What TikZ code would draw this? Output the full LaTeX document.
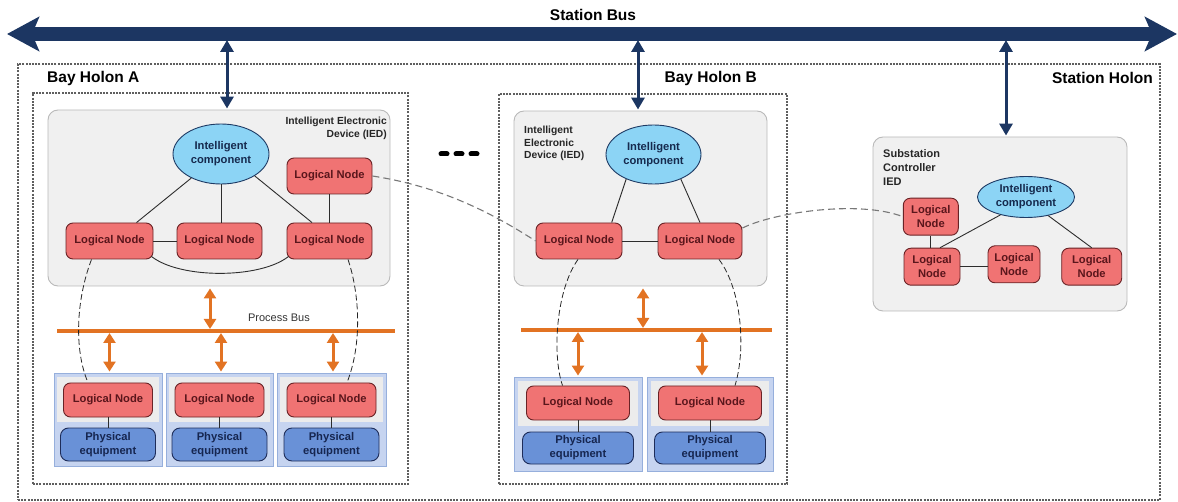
\documentclass[tikz,border=0pt]{standalone}
\usepackage{fontspec}
\setmainfont{Liberation Sans}
\usetikzlibrary{arrows.meta,shapes.geometric}
\definecolor{navy}{RGB}{28,54,98}
\definecolor{lnfill}{RGB}{240,115,115}
\definecolor{lnborder}{RGB}{105,35,38}
\definecolor{lntext}{RGB}{90,22,28}
\definecolor{icfill}{RGB}{140,212,245}
\definecolor{icborder}{RGB}{30,58,100}
\definecolor{ictext}{RGB}{22,42,78}
\definecolor{pefill}{RGB}{105,145,215}
\definecolor{peborder}{RGB}{30,45,90}
\definecolor{petext}{RGB}{22,38,80}
\definecolor{modfill}{RGB}{198,212,240}
\definecolor{modborder}{RGB}{150,175,220}
\definecolor{innergray}{RGB}{236,236,236}
\definecolor{iedfill}{RGB}{240,240,240}
\definecolor{iedborder}{RGB}{185,185,185}
\definecolor{orange1}{RGB}{226,115,35}
\definecolor{holongray}{RGB}{95,95,95}
\definecolor{dashgray}{RGB}{120,120,120}
\definecolor{linkgray}{RGB}{45,45,45}
\newcommand\myfs[2]{\fontsize{#1}{#2}\selectfont\bfseries}
\begin{document}
\begin{tikzpicture}[x=1pt,y=-1pt,
  holon/.style={draw=holongray, line width=1.1pt, dash pattern=on 2pt off 1.2pt, inner sep=0pt},
  holonlabel/.style={font=\myfs{15.5}{18}, text=black, inner sep=0pt},
  ied/.style={draw=iedborder, fill=iedfill, rounded corners=10pt, line width=0.9pt, inner sep=0pt},
  iedlabel/.style={font=\myfs{10.3}{12.5}, text=black!85, inner sep=0pt},
  ln/.style={draw=lnborder, fill=lnfill, text=lntext, rounded corners=7pt, line width=0.9pt,
    font=\myfs{11.2}{14}, minimum height=36pt, inner sep=0pt, align=center},
  ic/.style={ellipse, draw=icborder, fill=icfill, text=ictext, line width=0.9pt,
    font=\myfs{11.2}{14}, inner sep=0pt, align=center},
  pe/.style={draw=peborder, fill=pefill, text=petext, rounded corners=8pt, line width=0.9pt,
    font=\myfs{11.2}{14}, inner sep=0pt, align=center},
  module/.style={draw=modborder, fill=modfill, line width=0.9pt, inner sep=0pt},
  innerbox/.style={fill=innergray, draw=none, inner sep=0pt},
  link/.style={draw=linkgray, line width=0.9pt},
  dashlink/.style={draw=dashgray, dash pattern=on 7pt off 4pt, line width=1.1pt},
  arclink/.style={draw=black!85, dash pattern=on 6pt off 3pt, line width=0.8pt},
  pbus/.style={draw=orange1, line width=4pt},
  oarrow/.style={draw=orange1, line width=3pt, {Triangle[length=10pt,width=12pt]}-{Triangle[length=10pt,width=12pt]}},
  narrow/.style={draw=navy, line width=3pt, {Triangle[length=12pt,width=13pt]}-{Triangle[length=12pt,width=13pt]}},
  sbus/.style={draw=navy, line width=14pt, {Stealth[length=32pt,width=34pt,inset=7pt]}-{Stealth[length=32pt,width=34pt,inset=7pt]}}
]
\useasboundingbox (0,0) rectangle (1178,502);

% holons
\node[holon, minimum width=1142pt, minimum height=436pt] (stationH) at (589,282) {};
\node[holon, minimum width=375pt, minimum height=391pt] (bayA) at (220.5,288.5) {};
\node[holon, minimum width=288pt, minimum height=390pt] (bayB) at (643,289) {};
\node[holonlabel, anchor=west] (bayAlab) at (47,78) {Bay Holon A};
\node[holonlabel, anchor=east] (bayBlab) at (757,78) {Bay Holon B};
\node[holonlabel, anchor=east] (stationlab) at (1153,78) {Station Holon};

% station bus
\coordinate (busL) at (7,34);
\coordinate (busR) at (1177,34);
\draw[sbus] (busL) -- (busR);
\node[font=\myfs{15.5}{18}, inner sep=0pt] (buslab) at (593,15) {Station Bus};

% IED boxes
\node[ied, minimum width=342pt, minimum height=176pt] (iedA) at (219,198) {};
\node[ied, minimum width=253pt, minimum height=175pt] (iedB) at (640.5,198.5) {};
\node[ied, minimum width=254pt, minimum height=174pt] (iedS) at (1000,224) {};
\node[iedlabel, anchor=north east, align=right] (iedAlab) at (387,117) {Intelligent Electronic\\Device (IED)};
\node[iedlabel, anchor=north west, align=left] (iedBlab) at (524,126) {Intelligent\\Electronic\\Device (IED)};
\node[iedlabel, anchor=north west, align=left, font=\myfs{11}{14}] (iedSlab) at (883,149) {Substation\\Controller\\IED};

% bus arrows
\draw[narrow, shorten <=6pt, shorten >=1pt] ([xshift=8pt]iedA.north |- busL) -- ([xshift=8pt]iedA.north);
\draw[narrow, shorten <=6pt, shorten >=1pt] ([xshift=-2.5pt]iedB.north |- busL) -- ([xshift=-2.5pt]iedB.north);
\draw[narrow, shorten <=6pt, shorten >=1pt] ([xshift=6pt]iedS.north |- busL) -- ([xshift=6pt]iedS.north);

% ellipsis
\foreach \cx in {444,459,474} \draw[line width=5pt, line cap=round] (\cx-3,154) -- (\cx+3,154);

% Bay A IED content
\node[ic, minimum width=96pt, minimum height=60pt] (icA) at (221,154) {Intelligent\\component};
\node[ln, minimum width=85pt] (lnAt) at (329.5,176) {Logical Node};
\node[ln, minimum width=87pt] (lnA1) at (109.5,241) {Logical Node};
\node[ln, minimum width=85pt] (lnA2) at (219.5,241) {Logical Node};
\node[ln, minimum width=85pt] (lnA3) at (329.5,241) {Logical Node};
\draw[link] (icA.219) -- ([xshift=27pt]lnA1.north);
\draw[link] (icA.south) -- (icA.south |- lnA2.north);
\draw[link] (icA.-33) -- ([xshift=-17.5pt]lnA3.north);
\draw[link] (lnAt.south) -- (lnA3.north);
\draw[link] (lnA1.east) -- (lnA2.west);
\draw[link] ([xshift=-2pt,yshift=3pt]lnA1.south east) .. controls (180,279) and (260,279) .. ([xshift=2pt,yshift=3pt]lnA3.south west);

% Bay B IED content
\node[ic, minimum width=95pt, minimum height=59pt] (icB) at (653.5,154.5) {Intelligent\\component};
\node[ln, minimum width=86pt] (lnB1) at (579,241) {Logical Node};
\node[ln, minimum width=84pt] (lnB2) at (700,241) {Logical Node};
\draw[link] (icB.222) -- ([xshift=32.7pt]lnB1.north);
\draw[link] (icB.-42) -- (lnB2.north);
\draw[link] (lnB1.east) -- (lnB2.west);

% Station IED content
\node[ic, minimum width=97pt, minimum height=41pt] (icS) at (1026,197) {Intelligent\\component};
\node[ln, minimum width=55pt, minimum height=37pt] (lnS1) at (930.8,216.7) {Logical\\Node};
\node[ln, minimum width=56pt, minimum height=37pt] (lnS2) at (932,266.7) {Logical\\Node};
\node[ln, minimum width=52pt, minimum height=37pt] (lnS3) at (1014,264.3) {Logical\\Node};
\node[ln, minimum width=60pt, minimum height=37pt] (lnS4) at (1091.7,266.7) {Logical\\Node};
\draw[link] (lnS1.south) -- (lnS1.south |- lnS2.north);
\draw[link] (lnS2.east) -- (lnS2.east -| lnS3.west);
\draw[link] (icS.215) -- ([xshift=8pt]lnS2.north);
\draw[link] (icS.-40) -- (lnS4.north);

% process bus A
\coordinate (pbAL) at (57,331);
\coordinate (pbAR) at (395,331);
\draw[pbus] (pbAL) -- (pbAR);
\node[font=\fontsize{11}{13}\selectfont, text=black!80, inner sep=0pt] (pbAlab) at (279,318) {Process Bus};

% modules A
\foreach \nm/\cx/\w in {A1/108/108, A2/219.5/107, A3/331.5/109}{
  \node[module, minimum width=\w pt, minimum height=93pt] (mod\nm) at (\cx,419.5) {};
  \node[innerbox, minimum width=\w pt-6pt, minimum height=45pt] (in\nm) at (\cx,399.5) {};
  \node[ln, minimum width=89pt, minimum height=34pt] (lnb\nm) at (\cx,400) {Logical Node};
  \node[pe, minimum width=95pt, minimum height=33pt] (pe\nm) at (\cx,444.5) {Physical\\equipment};
  \draw[link] (lnb\nm.south) -- (pe\nm.north);
  \draw[oarrow, shorten <=2pt, shorten >=1pt] ([xshift=1.5pt]mod\nm.north |- pbAL) -- ([xshift=1.5pt]mod\nm.north);
}
\draw[oarrow, shorten <=2pt, shorten >=2pt] ([xshift=-9pt]iedA.south) -- ([xshift=-9pt]iedA.south |- pbAL);

% process bus B
\coordinate (pbBL) at (521,330);
\coordinate (pbBR) at (772,330);
\draw[pbus] (pbBL) -- (pbBR);
\foreach \nm/\cx/\w/\dx in {B1/578/128/0, B2/710/126/-8}{
  \node[module, minimum width=\w pt, minimum height=94pt] (mod\nm) at (\cx,424) {};
  \node[innerbox, minimum width=\w pt-8pt, minimum height=45pt] (in\nm) at (\cx,403.5) {};
  \node[ln, minimum width=103pt, minimum height=34pt] (lnb\nm) at (\cx,403) {Logical Node};
  \node[pe, minimum width=111pt, minimum height=32pt] (pe\nm) at (\cx,448) {Physical\\equipment};
  \draw[link] (lnb\nm.south) -- (pe\nm.north);
  \draw[oarrow, shorten <=2pt, shorten >=1pt] ([xshift=\dx pt]mod\nm.north |- pbBL) -- ([xshift=\dx pt]mod\nm.north);
}
\draw[oarrow, shorten <=2pt, shorten >=2pt] ([xshift=2.5pt]iedB.south) -- ([xshift=2.5pt]iedB.south |- pbBL);

% dashed arcs
\draw[arclink] ([xshift=-18pt]lnA1.south) .. controls (76,300) and (74,350) .. ([xshift=-20pt]lnbA1.north);
\draw[arclink] ([xshift=18.5pt]lnA3.south) .. controls (360,295) and (362,345) .. ([xshift=15.5pt]lnbA3.north);
\draw[arclink] ([xshift=-1pt]lnB1.south) .. controls (556,290) and (552,355) .. ([xshift=-15.5pt]lnbB1.north);
\draw[arclink] ([xshift=19pt]lnB2.south) .. controls (742,290) and (746,350) .. ([xshift=25pt]lnbB2.north);

% dashed gray inter-IED links
\draw[dashlink] (lnAt.east) .. controls (430,185) and (480,205) .. (lnB1.west);
\draw[dashlink] ([yshift=13pt]lnB2.east) .. controls (775,212) and (860,200) .. (lnS1.west);
\end{tikzpicture}
\end{document}
